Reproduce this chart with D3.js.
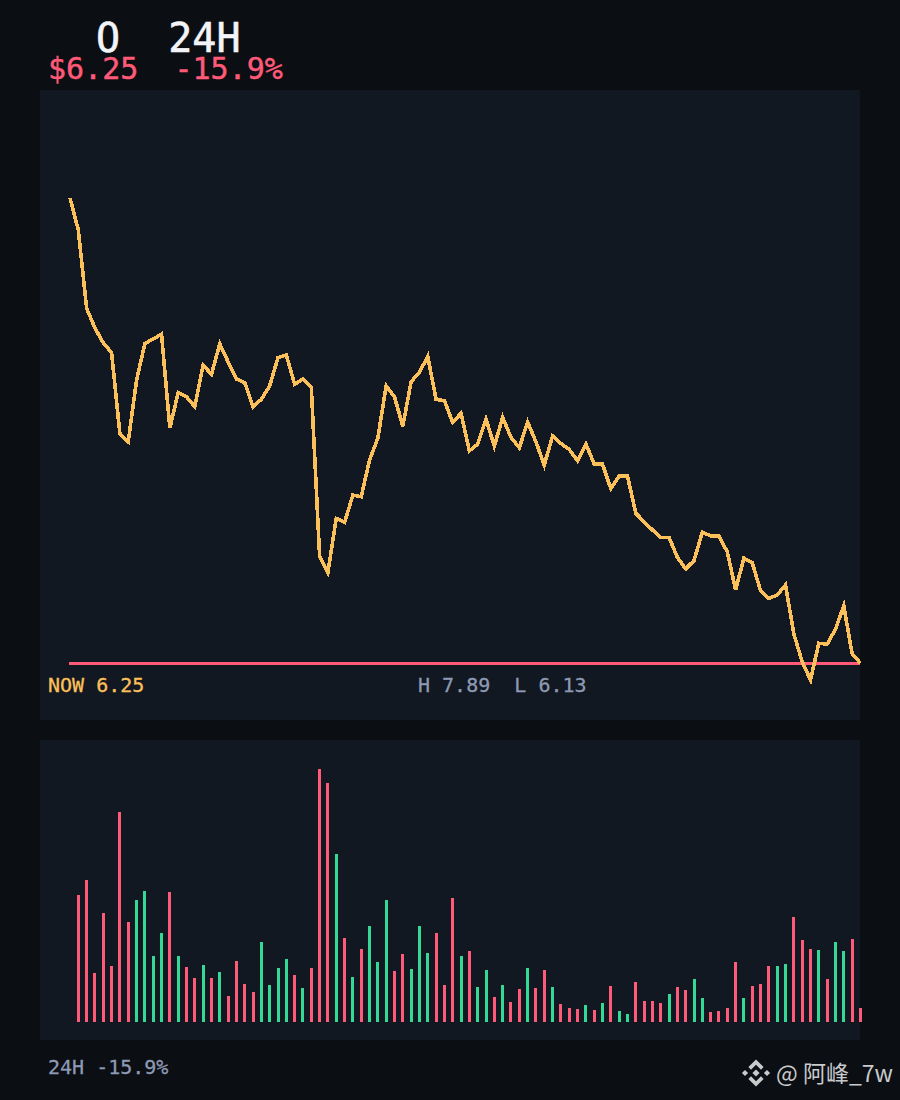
<!DOCTYPE html>
<html>
<head>
<meta charset="utf-8">
<title>24H</title>
<script src="https://cdn.jsdelivr.net/npm/d3@7/dist/d3.min.js"></script>
<style>
  html, body { margin: 0; padding: 0; background: #0b0e13; }
  svg { display: block; }
  text { font-family: "DejaVu Sans Mono", monospace; white-space: pre; }
</style>
</head>
<body>
<div id="chart"></div>
<script>
  const prices = [
    7.89, 7.773, 7.487, 7.415, 7.361, 7.325, 7.028, 7.0, 7.225, 7.359, 7.375, 7.393,
    7.05, 7.179, 7.164, 7.128, 7.28, 7.246, 7.357, 7.292, 7.229, 7.216, 7.128, 7.155,
    7.204, 7.307, 7.317, 7.21, 7.229, 7.199, 6.583, 6.523, 6.72, 6.706, 6.805, 6.799,
    6.933, 7.013, 7.204, 7.164, 7.057, 7.219, 7.254, 7.311, 7.155, 7.15, 7.07, 7.104,
    6.967, 6.991, 7.083, 6.984, 7.089, 7.016, 6.978, 7.072, 7.0, 6.915, 7.021, 6.994,
    6.972, 6.931, 6.992, 6.919, 6.918, 6.829, 6.875, 6.875, 6.739, 6.708, 6.678, 6.651,
    6.651, 6.578, 6.536, 6.566, 6.67, 6.656, 6.655, 6.598, 6.459, 6.575, 6.558, 6.456,
    6.428, 6.44, 6.477, 6.298, 6.197, 6.13, 6.264, 6.261, 6.315, 6.401, 6.227, 6.191
  ];

  const volumes = [
    127, 142, 49, 109, 56, 210, 100, 122, 131, 66, 89, 130, 66, 55, 44, 57, 44, 50, 26, 61,
    38, 30, 80, 37, 54, 63, 47, 34, 54, 253, 239, 168, 84, 45, 73, 96, 60, 122, 51, 68,
    53, 96, 69, 89, 37, 124, 66, 71, 35, 52, 25, 37, 20, 33, 54, 34, 52, 35, 18, 14,
    13, 17, 12, 19, 36, 11, 8, 40, 21, 21, 19, 28, 35, 32, 43, 24, 10, 11, 14, 60,
    24, 36, 38, 56, 56, 58, 105, 82, 73, 72, 43, 80, 71, 83, 14
  ];

  // d = down (red), u = up (green)
  const sides = [
    "d", "d", "d", "d", "d", "d", "d", "u", "u", "u", "u", "d", "u", "d", "d", "u", "d", "u", "d", "d",
    "d", "d", "u", "u", "u", "u", "d", "u", "d", "d", "d", "u", "d", "u", "d", "u", "u", "u", "d", "d",
    "u", "u", "u", "d", "d", "d", "u", "d", "u", "u", "d", "u", "d", "d", "u", "d", "d", "u", "d", "d",
    "d", "u", "d", "u", "d", "u", "u", "d", "d", "d", "d", "u", "d", "d", "u", "u", "d", "d", "d", "d",
    "u", "d", "d", "d", "u", "u", "d", "d", "d", "u", "d", "u", "u", "d", "d"
  ];

  const titleText = "O  24H";
  const changeText = "$6.25  -15.9%";
  const nowText = "NOW 6.25";
  const rangeText = "H 7.89  L 6.13";
  const footerText = "24H -15.9%";
  const watermarkText = "@ 阿峰_7w";

  const colors = {
    panel: "#111822",
    line: "#fcc05a",
    down: "#ff5a78",
    up: "#34d996",
    white: "#f2f4f8",
    muted: "#8e9ab3",
    mark: "#c9cacc"
  };

  const svg = d3
    .select("#chart")
    .append("svg")
    .attr("width", 900)
    .attr("height", 1100);

  // panels
  svg.append("rect").attr("x", 40).attr("y", 90).attr("width", 820).attr("height", 630).attr("fill", colors.panel);
  svg.append("rect").attr("x", 40).attr("y", 740).attr("width", 820).attr("height", 300).attr("fill", colors.panel);

  const xScale = d3.scaleLinear().domain([0, prices.length - 1]).range([70, 860.4]);
  const yScale = d3.scaleLinear().domain([d3.min(prices), d3.max(prices)]).range([680, 198]);
  const volScale = d3.scaleLinear().domain([0, d3.max(volumes)]).range([1022, 769]);

  // last price line goes under the price line
  const last = prices[prices.length - 1];
  svg
    .append("line")
    .attr("x1", xScale(0) - 1)
    .attr("x2", xScale(prices.length - 1))
    .attr("y1", yScale(last))
    .attr("y2", yScale(last))
    .attr("stroke", colors.down)
    .attr("stroke-width", 3)
    .attr("shape-rendering", "crispEdges");

  const line = d3
    .line()
    .x((d, i) => xScale(i))
    .y((d) => yScale(d));

  svg
    .append("path")
    .datum(prices)
    .attr("fill", "none")
    .attr("stroke", colors.line)
    .attr("stroke-width", 3.6)
    .attr("stroke-linejoin", "miter")
    .attr("shape-rendering", "crispEdges")
    .attr("d", line);

  // first bar sits on the second price point
  svg
    .selectAll("rect.vol")
    .data(volumes)
    .enter()
    .append("rect")
    .attr("class", "vol")
    .attr("x", (d, i) => Math.round(xScale(i + 1) - 1.5))
    .attr("y", (d) => volScale(d))
    .attr("width", 3)
    .attr("height", (d) => volScale(0) - volScale(d))
    .attr("fill", (d, i) => (sides[i] === "u" ? colors.up : colors.down))
    .attr("shape-rendering", "crispEdges");

  // the pixel font in the picture is chunkier than DejaVu, a thin outline helps
  const addText = (str, x, y, size, color) =>
    svg
      .append("text")
      .attr("x", x)
      .attr("y", y)
      .attr("font-size", size)
      .attr("fill", color)
      .attr("stroke", color)
      .attr("stroke-width", size / 70)
      .text(str);

  addText(titleText, 96, 52, 40, colors.white);
  addText(changeText, 48, 79, 30, colors.down);
  addText(nowText, 48, 692, 20, colors.line);
  addText(rangeText, 418, 692, 20, colors.muted);
  addText(footerText, 48, 1074, 20, colors.muted);
  addText(watermarkText, 776, 1082, 23, colors.mark)
    .attr("stroke", "none")
    .style("font-family", '"Noto Sans CJK SC", sans-serif');

  // little diamond logo next to the watermark
  const logo = svg.append("g").attr("transform", "translate(756,1073)").attr("fill", colors.mark);
  [
    "M0,-3.6L3.6,0L0,3.6L-3.6,0Z",
    "M-11,-3.1L-7.9,0L-11,3.1L-14.1,0Z",
    "M11,-3.1L14.1,0L11,3.1L7.9,0Z",
    "M0,-13.5L7.6,-5.9L5,-3.3L0,-8.3L-5,-3.3L-7.6,-5.9Z",
    "M0,13.5L7.6,5.9L5,3.3L0,8.3L-5,3.3L-7.6,5.9Z"
  ].forEach((d) => logo.append("path").attr("d", d));
</script>
</body>
</html>
